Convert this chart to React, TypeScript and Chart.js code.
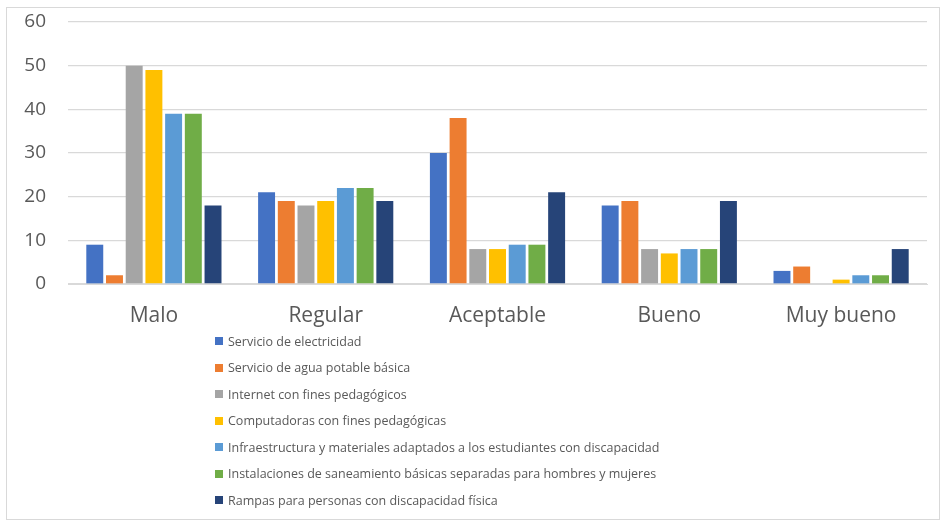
import React, { useEffect, useRef } from "react";
import { Chart, registerables } from "chart.js";

Chart.register(...registerables);

const categories = ["Malo", "Regular", "Aceptable", "Bueno", "Muy bueno"];
const seriesNames = [
  "Servicio de electricidad",
  "Servicio de agua potable básica",
  "Internet con fines pedagógicos",
  "Computadoras con fines pedagógicas",
  "Infraestructura y materiales adaptados a los estudiantes con discapacidad",
  "Instalaciones de saneamiento básicas separadas para hombres y mujeres",
  "Rampas para personas con discapacidad física",
];
const electricidad = [9, 21, 30, 18, 3];
const agua = [2, 19, 38, 19, 4];
const internet = [50, 18, 8, 8, 0];
const computadoras = [49, 19, 8, 7, 1];
const infraestructura = [39, 22, 9, 8, 2];
const saneamiento = [39, 22, 9, 8, 2];
const rampas = [18, 19, 21, 19, 8];
const seriesValues = [electricidad, agua, internet, computadoras, infraestructura, saneamiento, rampas];
const seriesColors = ["#4472C4", "#ED7D31", "#A5A5A5", "#FFC000", "#5B9BD5", "#70AD47", "#264478"];
const yTicks = [0, 10, 20, 30, 40, 50, 60];

const W = 942;
const H = 523;
const TEXT = "#595959";
const GRID = "#d9d9d9";
const X_AXIS_H = 60;

export default function App() {
  const ref = useRef<HTMLCanvasElement | null>(null);

  useEffect(() => {
    if (!ref.current) return;
    const chart = new Chart(ref.current, {
      type: "bar",
      data: {
        labels: categories,
        datasets: seriesNames.map((name, i) => ({
          label: name,
          data: seriesValues[i],
          backgroundColor: seriesColors[i],
          borderWidth: 0,
          categoryPercentage: 0.803,
          barPercentage: 0.86,
        })),
      },
      options: {
        animation: false,
        responsive: false,
        maintainAspectRatio: false,
        layout: { padding: { left: 0, right: 15, top: 22, bottom: H - 284 - X_AXIS_H } },
        plugins: {
          legend: { display: false },
          tooltip: { enabled: false },
        },
        scales: {
          x: {
            grid: { display: false, drawTicks: false },
            border: { display: true, color: GRID, width: 1 },
            ticks: {
              color: TEXT,
              padding: 19,
              font: { family: "'Open Sans', sans-serif", size: 21 },
            },
            afterFit: (s: any) => {
              s.height = X_AXIS_H;
              s.paddingLeft = 0;
              s.paddingRight = 0;
            },
          },
          y: {
            min: 0,
            max: 60,
            afterBuildTicks: (s: any) => {
              s.ticks = yTicks.map((v) => ({ value: v }));
            },
            grid: { color: GRID, lineWidth: 1.3, drawTicks: false },
            border: { display: false },
            ticks: {
              color: TEXT,
              padding: 22,
              font: { family: "'Open Sans', sans-serif", size: 19 },
            },
            afterFit: (s: any) => {
              s.width = 68;
              s.paddingTop = 0;
              s.paddingBottom = 0;
            },
          },
        },
      },
    });
    return () => chart.destroy();
  }, []);

  return (
    <div style={{ position: "absolute", left: 0, top: 0, width: W, height: H, background: "#fff" }}>
      <div
        style={{
          position: "absolute",
          left: 6,
          top: 7,
          width: 934,
          height: 513,
          border: `1px solid ${GRID}`,
          boxSizing: "border-box",
        }}
      />
      <canvas ref={ref} width={W} height={H} style={{ position: "absolute", left: 0, top: 0 }} />
      <div style={{ position: "absolute", left: 215, top: 328 }}>
        {seriesNames.map((name, i) => (
          <div
            key={name}
            style={{
              display: "flex",
              alignItems: "center",
              height: 26.5,
              fontFamily: "'Open Sans', sans-serif",
              fontSize: 12.5,
              color: TEXT,
              whiteSpace: "nowrap",
            }}
          >
            <span
              style={{
                display: "inline-block",
                width: 8,
                height: 8,
                background: seriesColors[i],
                marginRight: 5,
              }}
            />
            <span>{name}</span>
          </div>
        ))}
      </div>
    </div>
  );
}
